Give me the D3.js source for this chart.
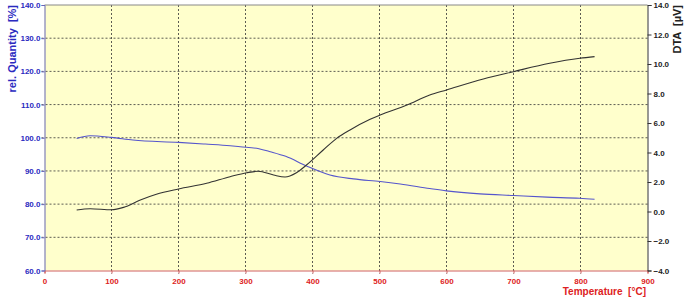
<!DOCTYPE html>
<html><head><meta charset="utf-8">
<script src="https://cdn.jsdelivr.net/npm/d3@7"></script>
<style>body{margin:0;background:#fff}svg{display:block}text{font-family:"Liberation Sans",Arial,sans-serif;font-weight:bold;white-space:pre}</style>
</head><body>
<svg id="c" width="685" height="299"></svg>
<script>
// Data (temperature °C)
const massT = [48, 68, 100, 132, 200, 240, 277, 292, 320, 337, 360, 391, 426, 461, 501, 531, 575, 600, 650, 700, 750, 799, 821];
const massV = [99.8, 100.6, 100.1, 99.3, 98.6, 98.1, 97.6, 97.3, 96.7, 95.8, 94.4, 91.5, 88.8, 87.6, 86.8, 86.05, 84.7, 84.0, 83.1, 82.6, 82.1, 81.75, 81.45];
const dtaT = [48, 68, 100, 118, 143, 167, 200, 242, 277, 302, 319, 342, 359, 376, 391, 416, 436, 456, 486, 501, 541, 575, 600, 655, 700, 754, 799, 821];
const dtaV = [0.10, 0.19, 0.12, 0.28, 0.78, 1.17, 1.53, 1.91, 2.36, 2.63, 2.73, 2.47, 2.34, 2.63, 3.15, 4.17, 4.96, 5.53, 6.25, 6.54, 7.22, 7.9, 8.24, 8.98, 9.48, 10.05, 10.39, 10.5];
const xTicks = [0, 100, 200, 300, 400, 500, 600, 700, 800, 900];
const leftTicks = [60, 70, 80, 90, 100, 110, 120, 130, 140];
const rightTicks = [-4, -2, 0, 2, 4, 6, 8, 10, 12, 14];

const svg = d3.select("#c");
const L = 44.5, R = 647.5, T = 5, B = 270.5;
const x = d3.scaleLinear().domain([0, 900]).range([L, R]);
const yL = d3.scaleLinear().domain([60, 140]).range([B, T]);
const yR = d3.scaleLinear().domain([-4, 14]).range([B, T]);

svg.append("rect").attr("x", L).attr("y", T).attr("width", R - L).attr("height", B - T).attr("fill", "#ffffcc");

// grid
const g = svg.append("g");
g.selectAll("line.v").data(xTicks.filter(d => d > 0 && d < 900)).join("line")
  .attr("x1", d => x(d)).attr("x2", d => x(d)).attr("y1", T).attr("y2", B + 3)
  .attr("stroke", "#333").attr("stroke-width", 0.8).attr("stroke-dasharray", "2,2");
g.selectAll("line.h").data(leftTicks.filter(d => d > 60 && d < 140)).join("line")
  .attr("x1", L - 3).attr("x2", R).attr("y1", d => yL(d)).attr("y2", d => yL(d))
  .attr("stroke", "#333").attr("stroke-width", 0.8).attr("stroke-dasharray", "2,2");

// top border
svg.append("line").attr("x1", L).attr("x2", R).attr("y1", T).attr("y2", T).attr("stroke", "#888").attr("stroke-width", 1);

// axes
const ax = svg.append("g").attr("transform", `translate(0,${B})`)
  .call(d3.axisBottom(x).tickValues(xTicks).tickFormat(d3.format("d")).tickSize(3));
ax.select(".domain").attr("stroke", "#d06060");
ax.selectAll(".tick line").attr("stroke", "#d06060");
ax.selectAll("text").attr("fill", "#dd2222").attr("font-size", 8).attr("dy", "0.9em");

const al = svg.append("g").attr("transform", `translate(${L},0)`)
  .call(d3.axisLeft(yL).tickValues(leftTicks).tickFormat(d3.format(".1f")).tickSize(3));
al.select(".domain").attr("stroke", "#6666bb");
al.selectAll(".tick line").attr("stroke", "#6666bb");
al.selectAll("text").attr("fill", "#2a2abf").attr("font-size", 8).attr("x", -4);

const ar = svg.append("g").attr("transform", `translate(${R},0)`)
  .call(d3.axisRight(yR).tickValues(rightTicks).tickFormat(d3.format(".1f")).tickSize(4));
ar.select(".domain").attr("stroke", "#333");
ar.selectAll(".tick line").attr("stroke", "#333");
ar.selectAll("text").attr("fill", "#222").attr("font-size", 8).attr("x", 6);
svg.selectAll(".domain").attr("stroke-width", 1);

// lines
const lineM = d3.line().x((d, i) => x(massT[i])).y(d => yL(d)).curve(d3.curveMonotoneX);
svg.append("path").attr("d", lineM(massV)).attr("fill", "none").attr("stroke", "#5555cc").attr("stroke-width", 1.1);
const lineD = d3.line().x((d, i) => x(dtaT[i])).y(d => yR(d)).curve(d3.curveMonotoneX);
svg.append("path").attr("d", lineD(dtaV)).attr("fill", "none").attr("stroke", "#333").attr("stroke-width", 1.1);

// titles
svg.append("text").attr("transform", "translate(16,5) rotate(-90)").attr("text-anchor", "end")
  .attr("fill", "#2a2abf").attr("font-size", 11).text("rel. Quantity  [%]");
svg.append("text").attr("transform", "translate(681,5) rotate(-90)").attr("text-anchor", "end")
  .attr("fill", "#222").attr("font-size", 11).text("DTA  [µV]");
svg.append("text").attr("x", 646).attr("y", 295).attr("text-anchor", "end")
  .attr("fill", "#dd2222").attr("font-size", 10).text("Temperature  [°C]");
</script>
</body></html>
